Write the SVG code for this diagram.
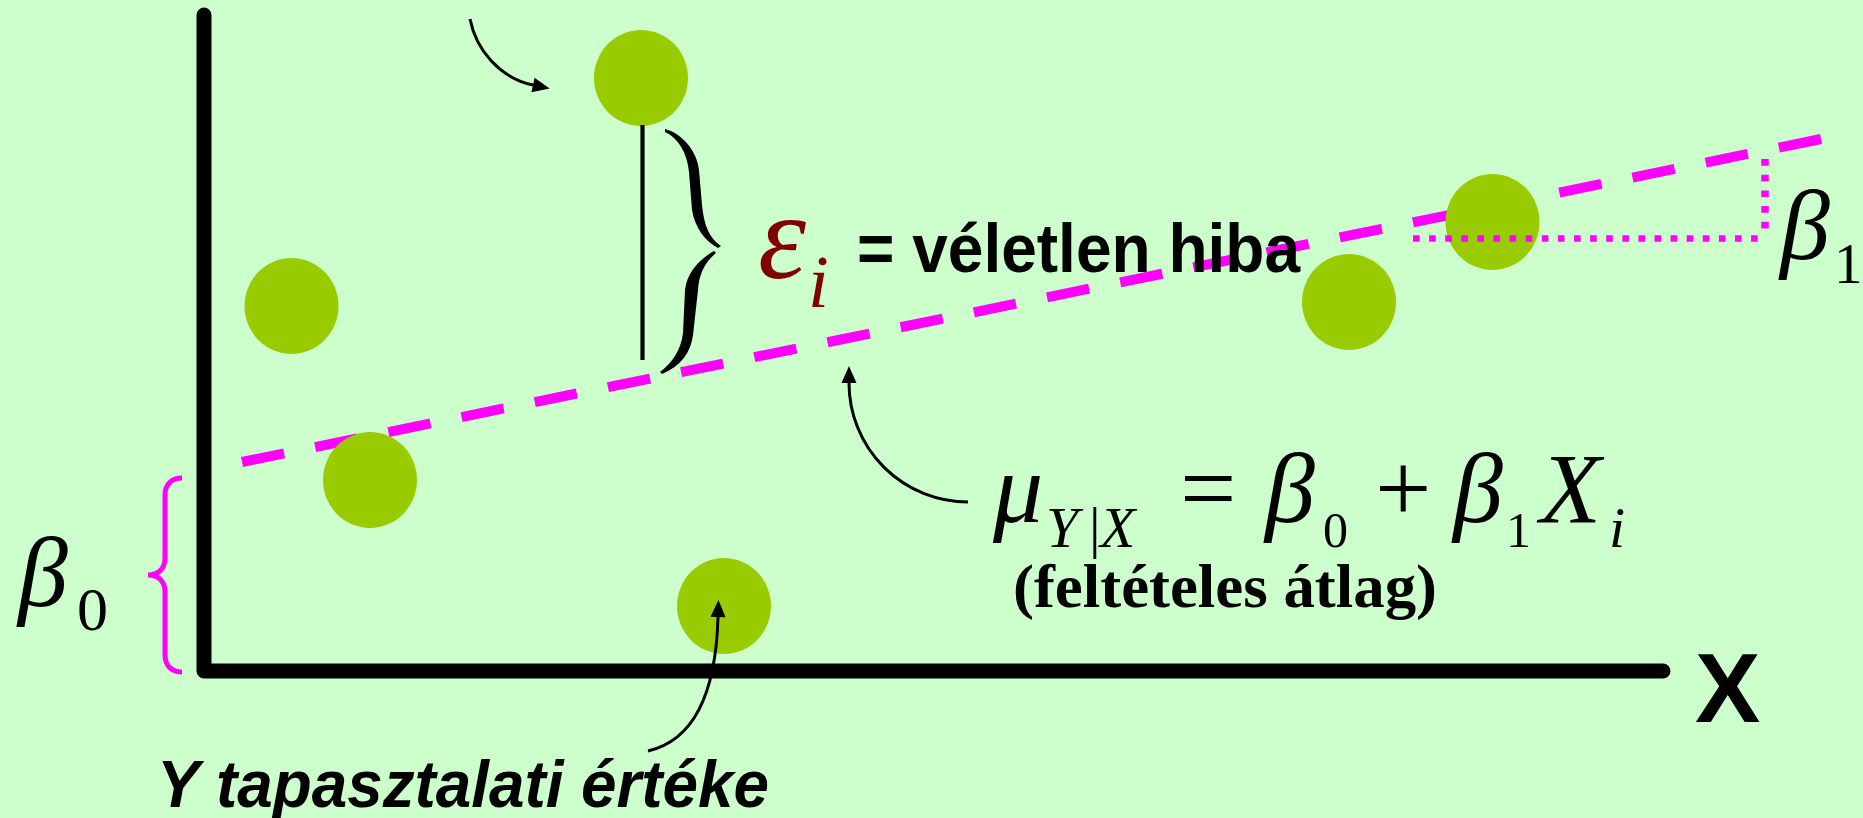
<svg xmlns="http://www.w3.org/2000/svg" width="1863" height="818" viewBox="0 0 1863 818">
<style>
.pt{fill:#99CC00}
.serif{font-family:"Liberation Serif","Times New Roman",serif}
.sans{font-family:"Liberation Sans",Arial,sans-serif;font-weight:bold}
.it{font-style:italic}
.conn{fill:none;stroke:#000;stroke-width:3}
.pink{fill:none;stroke:#FF00FF}
</style>
<defs>
<marker id="ah" markerUnits="userSpaceOnUse" markerWidth="18" markerHeight="16" refX="0" refY="7.5" orient="auto" overflow="visible">
<path d="M0,0 L17,7.5 L0,15 Z" fill="#000"/>
</marker>
</defs>
<rect width="1863" height="818" fill="#CCFFCC"/>
<g id="axes">
<path d="M204 15 L204 671 L1663 671" fill="none" stroke="#000" stroke-width="15" stroke-linecap="round" stroke-linejoin="round"/>
<text class="sans" x="1695" y="722" font-size="98">X</text>
</g>
<g id="regression-line">
<path class="pink" d="M242 462 L1821 139" stroke-width="10" stroke-dasharray="43 31.7"/>
</g>
<g id="points">
<ellipse id="p1" class="pt" cx="641" cy="78" rx="47" ry="48"/>
<ellipse id="p2" class="pt" cx="291.5" cy="306" rx="47" ry="48"/>
<ellipse id="p3" class="pt" cx="370" cy="480" rx="47" ry="48"/>
<ellipse id="p4" class="pt" cx="724" cy="606" rx="47" ry="48"/>
<ellipse id="p5" class="pt" cx="1349" cy="302" rx="47" ry="48"/>
<ellipse id="p6" class="pt" cx="1492.5" cy="222" rx="47" ry="48"/>
</g>
<g id="slope">
<path class="pink" d="M1413 238.5 L1760 238.5" stroke-width="6.7" stroke-dasharray="6.6 9.5"/>
<path class="pink" d="M1765 159 L1765 230" stroke-width="7.5" stroke-dasharray="6.7 9"/>
<g class="serif">
<text class="it" x="1780" y="259" font-size="100">β</text>
<text x="1834" y="283" font-size="57">1</text>
</g>
</g>
<g id="intercept">
<path class="pink" d="M182 478 C172 478 165 484 165 495 L165 558 C165 569 158 575 148 575 C158 575 165 581 165 592 L165 655 C165 666 172 672 182 672" stroke-width="5"/>
<g class="serif">
<text class="it" x="18" y="606" font-size="100">β</text>
<text x="77" y="630" font-size="62">0</text>
</g>
</g>
<g id="error">
<line x1="642.5" y1="125" x2="642.5" y2="360" stroke="#000" stroke-width="4.2"/>
<path d="M665 129 C681 133 697 150 699 170 L702 205 C704 225 709 238 721 246 L718 248 C705 241 695 228 692 210 L689 172 C687 152 678 138 665 132 Z" fill="#000"/>
<path d="M716 253 C705 262 699 274 698 290 L693 335 C691 352 681 366 662 374 L660 372 C672 363 681 350 683 333 L685 290 C687 272 700 259 714 251 Z" fill="#000"/>
<g class="serif it" fill="#800000">
<text x="758" y="278" font-size="122">ε</text>
<text x="808" y="307" font-size="75">i</text>
</g>
<text class="sans" x="857" y="272" font-size="68" textLength="443" lengthAdjust="spacingAndGlyphs">= véletlen hiba</text>
</g>
<g id="formula" class="serif">
<text class="it" x="993" y="522" font-size="100">μ</text>
<text y="547" font-size="58"><tspan class="it" x="1046">Y</tspan><tspan x="1089">|</tspan><tspan class="it" x="1100">X</tspan></text>
<text x="1180" y="522" font-size="100">=</text>
<text class="it" x="1265" y="522" font-size="100">β</text>
<text x="1323" y="547" font-size="50">0</text>
<text x="1375" y="522" font-size="100">+</text>
<text class="it" x="1453" y="522" font-size="100">β</text>
<text x="1506" y="547" font-size="50">1</text>
<text class="it" x="1540" y="522" font-size="100">X</text>
<text class="it" x="1609" y="547" font-size="58">i</text>
<text x="1013" y="607" font-size="62" font-weight="bold" textLength="424" lengthAdjust="spacingAndGlyphs">(feltételes átlag)</text>
</g>
<g id="observed-label">
<text class="sans it" x="157" y="807" font-size="67" textLength="612" lengthAdjust="spacingAndGlyphs">Y tapasztalati értéke</text>
</g>
<g id="connectors">
<path class="conn" d="M470 19 C476 50 500 78 533 85" marker-end="url(#ah)"/>
<path class="conn" d="M968 502 A119 119 0 0 1 849 383" marker-end="url(#ah)"/>
<path class="conn" d="M648 751 C695 740 716 690 718 617" marker-end="url(#ah)"/>
</g>
</svg>
